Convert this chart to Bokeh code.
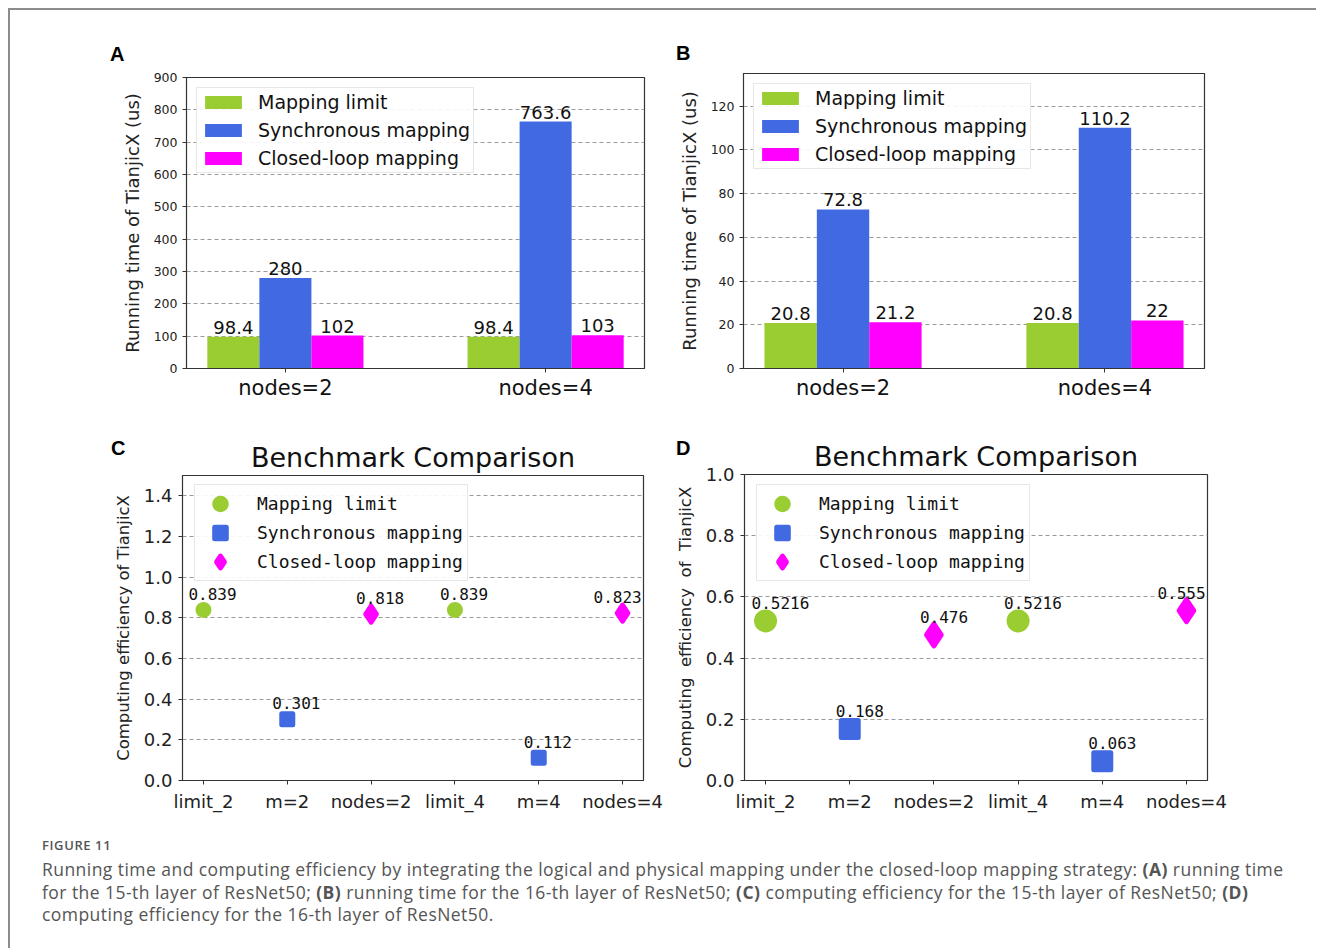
from bokeh.plotting import figure
from bokeh.models import (ColumnDataSource, LabelSet, Legend, LegendItem,
                          Range1d, FixedTicker, Div, PrintfTickFormatter, Spacer)
from bokeh.layouts import row, column
from bokeh.embed import file_html
from bokeh.resources import INLINE
from bokeh.core.properties import value

# ---------------- data ----------------
series_names = ["Mapping limit", "Synchronous mapping", "Closed-loop mapping"]
series_colors = ["#9acd32", "#4169e1", "#ff00ff"]

bar_groups = ["nodes=2", "nodes=4"]
a_limit = [98.4, 98.4]
a_sync = [280, 763.6]
a_closed = [102, 103]
a_yticks = [0, 100, 200, 300, 400, 500, 600, 700, 800, 900]

b_limit = [20.8, 20.8]
b_sync = [72.8, 110.2]
b_closed = [21.2, 22]
b_yticks = [0, 20, 40, 60, 80, 100, 120]

eff_cats = ["limit_2", "m=2", "nodes=2", "limit_4", "m=4", "nodes=4"]
limit_cats = ["limit_2", "limit_4"]
sync_cats = ["m=2", "m=4"]
closed_cats = ["nodes=2", "nodes=4"]

c_limit = [0.839, 0.839]
c_sync = [0.301, 0.112]
c_closed = [0.818, 0.823]
c_yticks = [0.0, 0.2, 0.4, 0.6, 0.8, 1.0, 1.2, 1.4]

d_limit = [0.5216, 0.5216]
d_sync = [0.168, 0.063]
d_closed = [0.476, 0.555]
d_yticks = [0.0, 0.2, 0.4, 0.6, 0.8, 1.0]

FONT = "DejaVu Sans"
MONO = "DejaVu Sans Mono"
AXIS_COLOR = "#333333"
LETTER_H = 60


def style_axes(p, yticks, ytick_size, xtick_size, ylabel, ylabel_size, ystand, xstand):
    p.xgrid.visible = False
    p.ygrid.grid_line_color = "#9a9a9a"
    p.ygrid.grid_line_dash = "4 3"
    p.ygrid.grid_line_width = 1
    p.outline_line_color = AXIS_COLOR
    p.outline_line_width = 1.2
    p.yaxis.ticker = FixedTicker(ticks=yticks)
    for ax in (p.xaxis[0], p.yaxis[0]):
        ax.axis_line_color = AXIS_COLOR
        ax.major_tick_line_color = AXIS_COLOR
        ax.minor_tick_line_color = None
        ax.major_tick_out = 4
        ax.major_tick_in = 0
        ax.major_label_text_font = FONT
        ax.major_label_text_color = "#222222"
    p.yaxis.major_label_text_font_size = ytick_size
    p.xaxis.major_label_text_font_size = xtick_size
    p.yaxis.major_label_standoff = ystand
    p.xaxis.major_label_standoff = xstand
    p.yaxis.axis_label = ylabel
    p.yaxis.axis_label_text_font = FONT
    p.yaxis.axis_label_text_font_size = ylabel_size
    p.yaxis.axis_label_text_font_style = "normal"
    p.yaxis.axis_label_text_color = "#222222"
    p.yaxis.axis_label_standoff = 8
    p.background_fill_color = "white"
    p.border_fill_color = None


def with_letter(p, letter, left, top, width):
    html = ('<div style="position:relative;left:%dpx;top:%dpx;font-family:\'Liberation Sans\',Arial,sans-serif;'
            'font-weight:bold;font-size:20px;line-height:20px;color:#000;">%s</div>' % (left, top, letter))
    d = Div(text=html, width=width, height=LETTER_H, margin=0)
    p.margin = (-LETTER_H, 0, 0, 0)
    return column(d, p, spacing=0)


def bar_panel(limit, sync, closed, ymax, yticks, width, height, mbl, mbr, mbt, mbb):
    p = figure(width=width, height=height, output_backend="svg", toolbar_location=None,
               x_range=Range1d(-0.38, 1.38), y_range=Range1d(0, ymax),
               min_border_left=mbl, min_border_right=mbr,
               min_border_top=mbt, min_border_bottom=mbb)
    xs = list(range(len(bar_groups)))
    bw = 0.2
    items = []
    for k, (vals, name, color) in enumerate(zip([limit, sync, closed], series_names, series_colors)):
        src = ColumnDataSource(dict(x=[x + (k - 1) * bw for x in xs], top=vals,
                                    label=[f"{v:g}" for v in vals]))
        r = p.vbar(x="x", top="top", width=bw, bottom=0, source=src,
                   fill_color=color, line_color=None)
        items.append(LegendItem(label=name, renderers=[r]))
        p.add_layout(LabelSet(x="x", y="top", text="label", source=src,
                              text_align="center", text_baseline="alphabetic", y_offset=3,
                              text_font=value(FONT), text_font_size="18px",
                              text_color="#111111"))
    style_axes(p, yticks, "12.5px", "21px", "Running time of TianjicX (us)", "18px", 5, 3)
    p.xaxis.ticker = FixedTicker(ticks=xs)
    p.xaxis.major_label_overrides = {i: g for i, g in enumerate(bar_groups)}
    p.xaxis.major_label_text_color = "#111111"
    leg = Legend(items=items, location="top_left", margin=10, padding=3, spacing=6,
                 glyph_width=46, glyph_height=16, label_standoff=12, label_height=14,
                 label_text_font=FONT, label_text_font_size="19px",
                 label_text_color="#111111",
                 border_line_color="#cfcfcf", border_line_width=1,
                 background_fill_color="white", background_fill_alpha=0.9)
    p.add_layout(leg)
    return p


def eff_panel(limit, sync, closed, ymax, yticks, width, height,
              mbl, mbr, mbt, mbb, sizes, ylabel, lab_dx, lab_dy, leg_loc):
    p = figure(width=width, height=height, output_backend="svg", toolbar_location=None,
               x_range=Range1d(-0.25, 5.25), y_range=Range1d(0, ymax),
               min_border_left=mbl, min_border_right=mbr,
               min_border_top=mbt, min_border_bottom=mbb,
               title="Benchmark Comparison")
    p.title.text_font = FONT
    p.title.text_font_size = "27px"
    p.title.text_font_style = "normal"
    p.title.align = "center"
    p.title.text_color = "#111111"
    p.title.standoff = 6
    markers = ["circle", "square", "diamond"]
    lw = 5
    last = len(eff_cats) - 1
    items = []
    for vals, cats, name, color, marker, size in zip(
            [limit, sync, closed], [limit_cats, sync_cats, closed_cats],
            series_names, series_colors, markers, sizes):
        xs = [eff_cats.index(c) for c in cats]
        src = ColumnDataSource(dict(x=xs, y=vals, label=[str(v) for v in vals],
                                    dx=[-29 if x == last else lab_dx for x in xs]))
        r = p.scatter(x="x", y="y", source=src, marker=marker, size=size - lw,
                      fill_color=color, line_color=color, line_width=lw,
                      line_join="round")
        items.append(LegendItem(label=name, renderers=[r]))
        p.add_layout(LabelSet(x="x", y="y", text="label", source=src,
                              text_align="left", text_baseline="alphabetic",
                              x_offset="dx", y_offset=lab_dy,
                              text_font=value(MONO), text_font_size="16px",
                              text_color="#111111"))
    style_axes(p, yticks, "18px", "18px", ylabel, "16.5px", 6, 6)
    p.yaxis.formatter = PrintfTickFormatter(format="%.1f")
    p.xaxis.ticker = FixedTicker(ticks=list(range(len(eff_cats))))
    p.xaxis.major_label_overrides = {i: c for i, c in enumerate(eff_cats)}
    leg = Legend(items=items, location=leg_loc, padding=4, spacing=0,
                 glyph_width=42, glyph_height=29, label_standoff=16, label_height=14,
                 label_text_font=MONO, label_text_font_size="18px",
                 label_text_color="#111111",
                 border_line_color="#cfcfcf", border_line_width=1,
                 background_fill_color="white", background_fill_alpha=0.9)
    p.add_layout(leg)
    return p


pA = bar_panel(a_limit, a_sync, a_closed, 900, a_yticks, 655, 415, 176, 21, 67, 57)
pB = bar_panel(b_limit, b_sync, b_closed, 135, b_yticks, 646, 415, 78, 107, 63, 57)
pC = eff_panel(c_limit, c_sync, c_closed, 1.5, c_yticks, 655, 395,
               172, 22, 50, 40, (16, 16, 21),
               "Computing efficiency of TianjicX", -15, 10, (12, 199))
pD = eff_panel(d_limit, d_sync, d_closed, 1.0, d_yticks, 646, 395,
               79, 104, 49, 40, (23, 22, 27),
               "Computing\u00a0 efficiency\u00a0 of\u00a0 TianjicX", -14, 12, (12, 199))

colA = with_letter(pA, "A", 100, 34, 655)
colB = with_letter(pB, "B", 11, 33, 646)
colC = with_letter(pC, "C", 101, 13, 655)
colD = with_letter(pD, "D", 11, 13, 646)

caption_html = (
    '<div style="font-family:\'Open Sans\',sans-serif;color:#555;padding-left:32px;">'
    '<div style="font-size:13px;font-weight:600;letter-spacing:0.6px;line-height:18px;'
    'margin-top:16px;color:#555;">FIGURE 11</div>'
    '<div style="font-size:17.5px;letter-spacing:0.45px;line-height:22.5px;white-space:nowrap;margin-top:4px;">'
    'Running time and computing efficiency by integrating the logical and physical mapping '
    'under the closed-loop mapping strategy: <b>(A)</b> running time<br>'
    'for the 15-th layer of ResNet50; <b>(B)</b> running time for the 16-th layer of ResNet50; '
    '<b>(C)</b> computing efficiency for the 15-th layer of ResNet50; <b>(D)</b><br>'
    'computing efficiency for the 16-th layer of ResNet50.</div></div>'
)
caption = Div(text=caption_html, width=1306, height=113, margin=0)

vline = Div(text="", width=2, height=940, margin=0, styles={"background-color": "#8c8c8c"})
hline = Div(text="", width=1306, height=2, margin=0, styles={"background-color": "#8c8c8c"})

inner = column(hline, row(colA, colB, spacing=0), row(colC, colD, spacing=0), caption, spacing=0)
layout = column(Spacer(width=1316, height=8),
                row(Spacer(width=8, height=940), vline, inner, spacing=0),
                spacing=0)

open("out.html", "w").write(file_html(layout, INLINE))
